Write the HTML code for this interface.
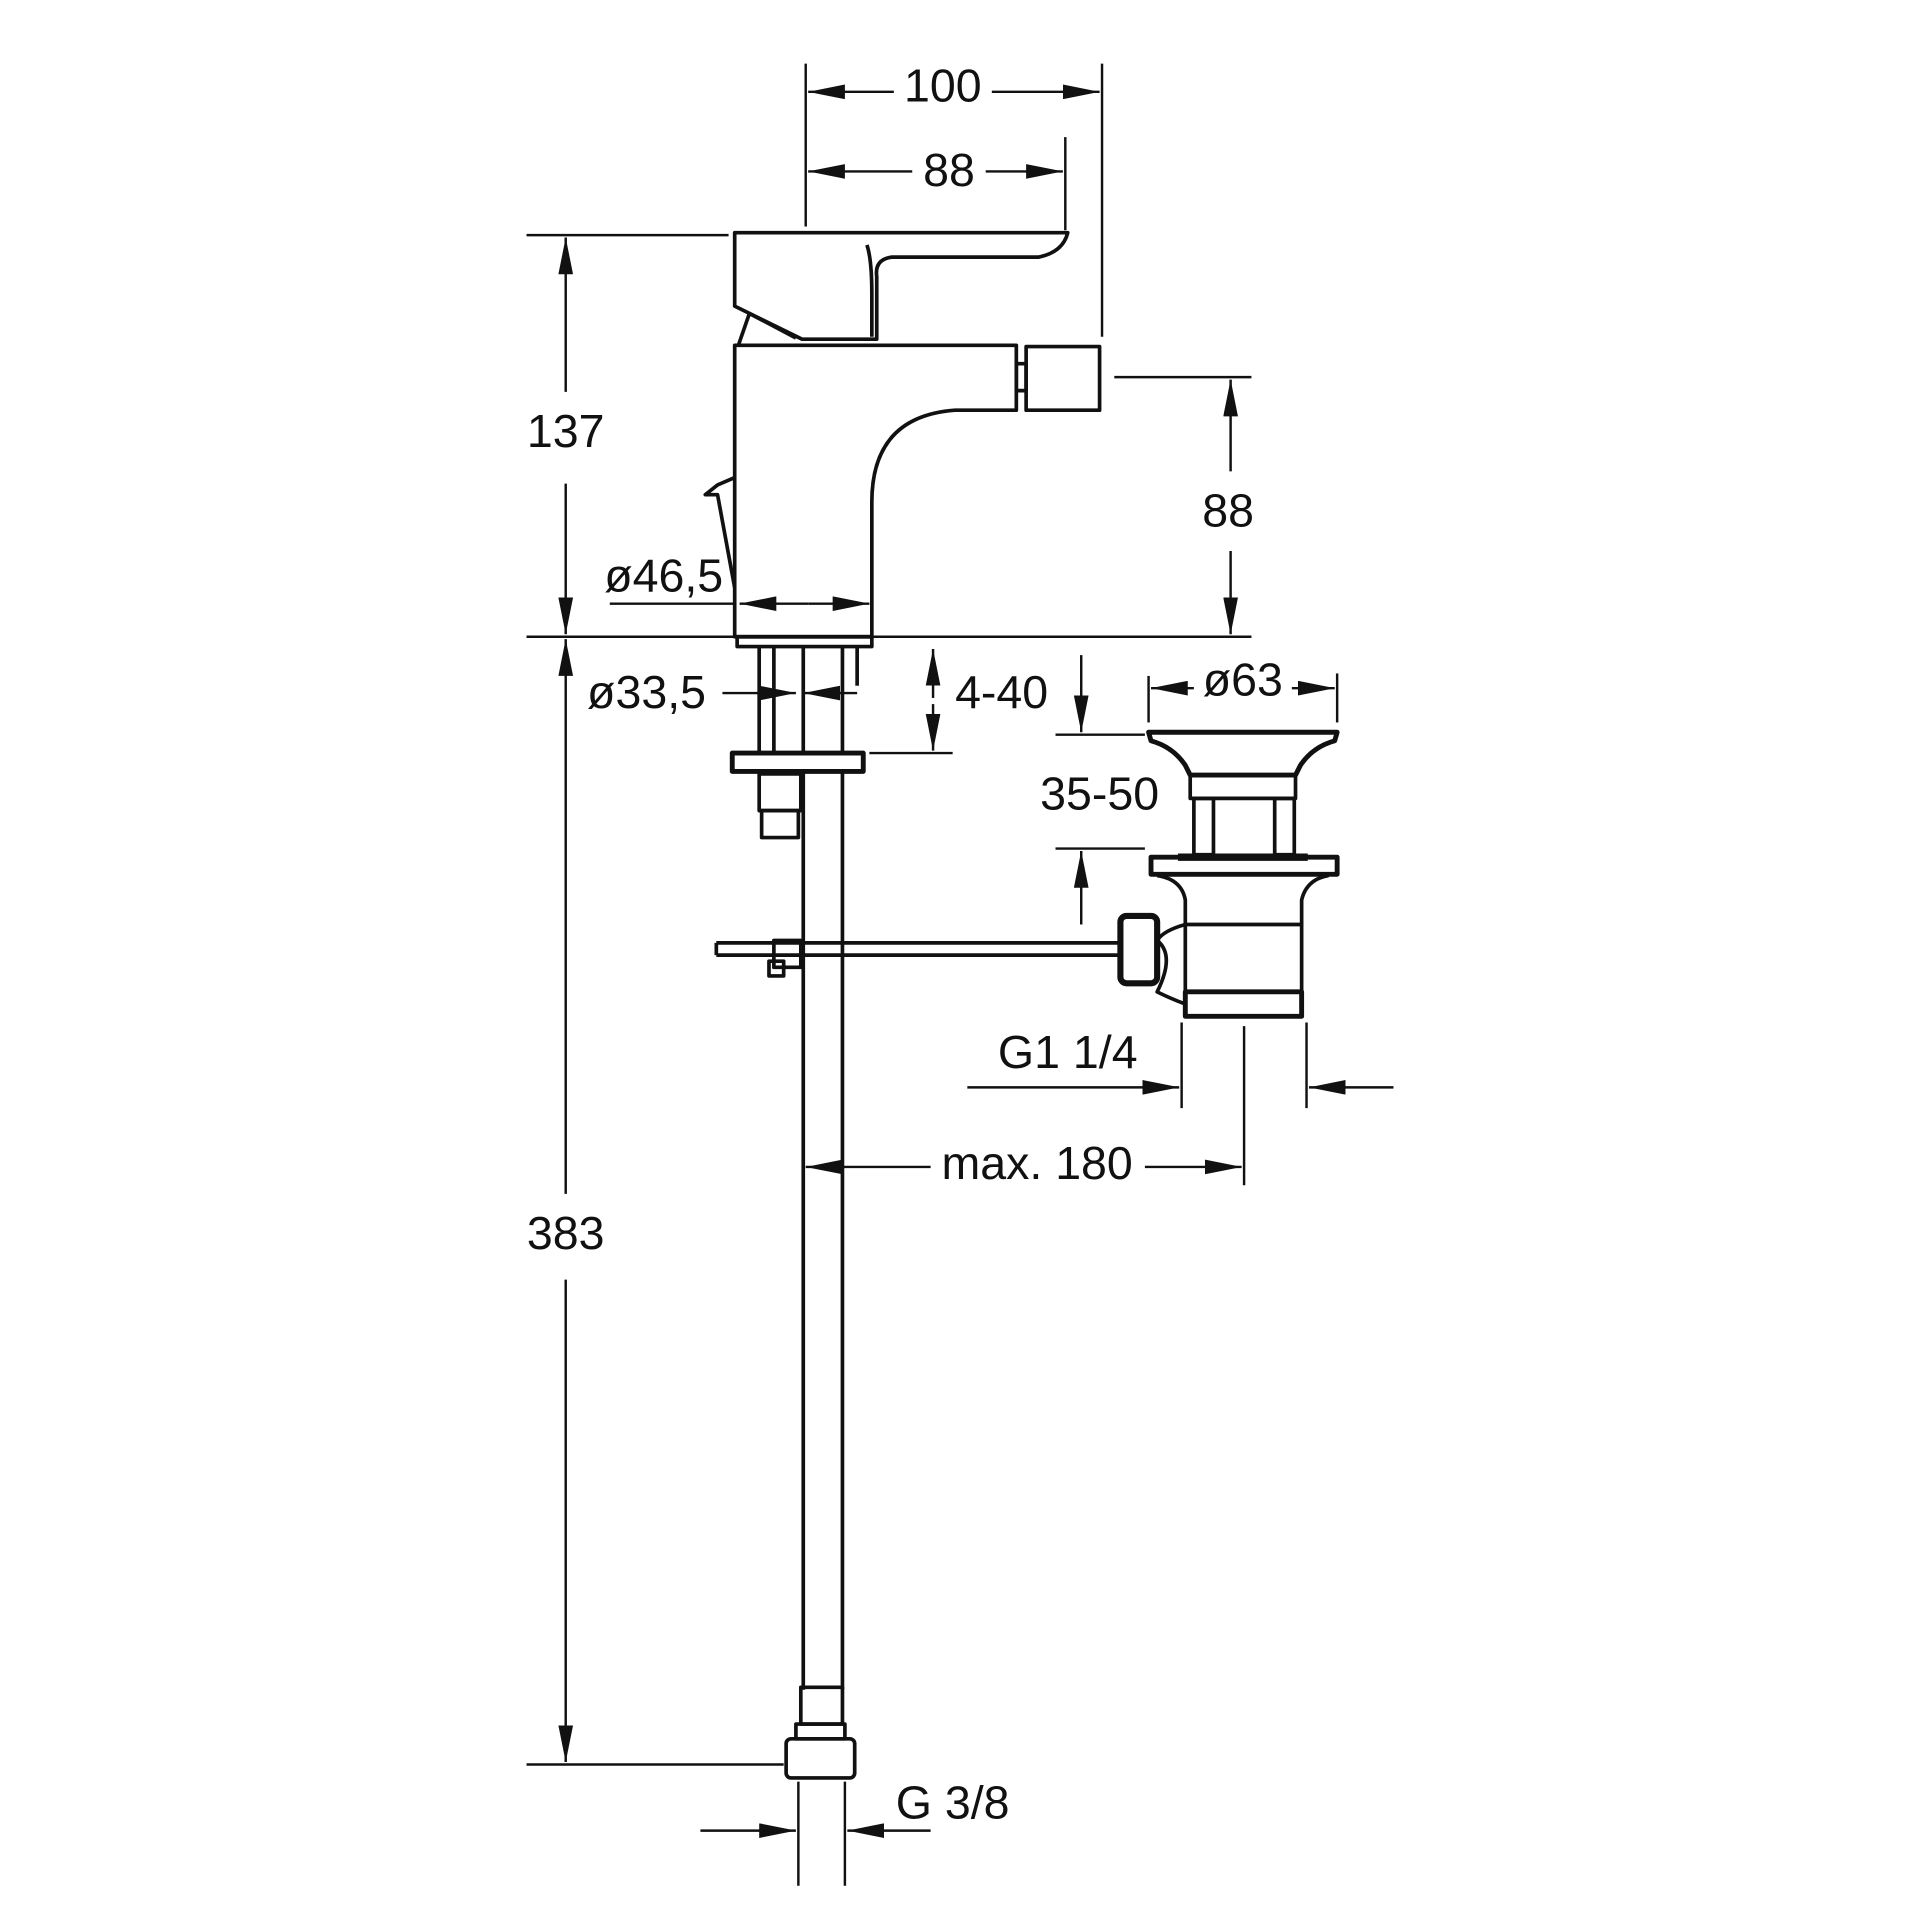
<!DOCTYPE html>
<html><head><meta charset="utf-8"><style>html,body{margin:0;padding:0;background:#fff}svg{display:block}</style></head>
<body>
<svg width="1920" height="1920" viewBox="0 0 1568 1568" xmlns="http://www.w3.org/2000/svg">
<defs>
<marker id="a" viewBox="0 0 30 12" refX="30" refY="6" markerWidth="30" markerHeight="12" markerUnits="userSpaceOnUse" orient="auto" preserveAspectRatio="none"><path d="M0,0 L30,6 L0,12 Z" fill="#111"/></marker>
</defs>
<g stroke="#111" stroke-width="2" fill="none">
<line x1="658" y1="52" x2="658" y2="185"/><line x1="900" y1="52" x2="900" y2="275"/><line x1="870" y1="112" x2="870" y2="188"/>
<line x1="730" y1="75" x2="660" y2="75" marker-end="url(#a)"/><line x1="810" y1="75" x2="898" y2="75" marker-end="url(#a)"/>
<line x1="745" y1="140" x2="660" y2="140" marker-end="url(#a)"/><line x1="805" y1="140" x2="868" y2="140" marker-end="url(#a)"/>
<line x1="430" y1="192" x2="595" y2="192"/><line x1="430" y1="520" x2="1022" y2="520"/><line x1="430" y1="1441" x2="640" y2="1441"/>
<line x1="462" y1="320" x2="462" y2="194" marker-end="url(#a)"/><line x1="462" y1="395" x2="462" y2="518" marker-end="url(#a)"/>
<line x1="462" y1="975" x2="462" y2="522" marker-end="url(#a)"/><line x1="462" y1="1045" x2="462" y2="1439" marker-end="url(#a)"/>
<line x1="910" y1="308" x2="1022" y2="308"/>
<line x1="1005" y1="385" x2="1005" y2="310" marker-end="url(#a)"/><line x1="1005" y1="450" x2="1005" y2="518" marker-end="url(#a)"/>
<line x1="498" y1="493" x2="600" y2="493"/>
<line x1="660" y1="493" x2="604" y2="493" marker-end="url(#a)"/><line x1="660" y1="493" x2="710" y2="493" marker-end="url(#a)"/>
<line x1="590" y1="566" x2="650" y2="566" marker-end="url(#a)"/><line x1="700" y1="566" x2="656" y2="566" marker-end="url(#a)"/>
<line x1="710" y1="615" x2="778" y2="615"/>
<line x1="762" y1="570" x2="762" y2="530" marker-end="url(#a)"/><line x1="762" y1="575" x2="762" y2="613" marker-end="url(#a)"/>
<line x1="938" y1="552" x2="938" y2="590"/><line x1="1092" y1="550" x2="1092" y2="590"/>
<line x1="975" y1="562" x2="940" y2="562" marker-end="url(#a)"/><line x1="1055" y1="562" x2="1090" y2="562" marker-end="url(#a)"/>
<line x1="862" y1="600" x2="935" y2="600"/><line x1="862" y1="693" x2="935" y2="693"/>
<line x1="883" y1="535" x2="883" y2="598" marker-end="url(#a)"/><line x1="883" y1="755" x2="883" y2="695" marker-end="url(#a)"/>
<line x1="965" y1="835" x2="965" y2="905"/><line x1="1067" y1="835" x2="1067" y2="905"/><line x1="1016" y1="838" x2="1016" y2="968"/>
<line x1="790" y1="888" x2="963" y2="888" marker-end="url(#a)"/><line x1="1138" y1="888" x2="1069" y2="888" marker-end="url(#a)"/>
<line x1="760" y1="953" x2="658" y2="953" marker-end="url(#a)"/><line x1="935" y1="953" x2="1014" y2="953" marker-end="url(#a)"/>
<line x1="652" y1="1455" x2="652" y2="1540"/><line x1="690" y1="1455" x2="690" y2="1540"/>
<line x1="572" y1="1495" x2="650" y2="1495" marker-end="url(#a)"/><line x1="760" y1="1495" x2="692" y2="1495" marker-end="url(#a)"/>
</g>
<g stroke="#111" stroke-width="3" fill="none" stroke-linejoin="round">
<path d="M600,190 L872,190 Q868,206 848,210 L728,210 Q714,212 716,226 L716,277 L655,277 L600,250 Z"/>
<path d="M708,200 Q712,212 712,240 L712,275"/>
<path d="M603,282 L612,256 L650,276"/>
<path d="M600,282 L830,282 L830,335 L780,335 Q712,340 712,410 L712,520 L600,520 Z"/>
<rect x="838" y="283" width="60" height="52"/><rect x="830" y="297" width="8" height="22"/>
<path d="M600,390 L586,396 L576,404 L586,404 L600,480"/>
<rect x="602" y="520" width="110" height="8"/>
<line x1="620" y1="528" x2="620" y2="615"/><line x1="632" y1="528" x2="632" y2="615"/>
<line x1="656" y1="528" x2="656" y2="615"/><line x1="688" y1="528" x2="688" y2="615"/><line x1="700" y1="528" x2="700" y2="560"/>
<rect x="598" y="615" width="107" height="15" stroke-width="4"/>
<rect x="620" y="632" width="34" height="30"/><rect x="622" y="662" width="30" height="22"/>
<line x1="656" y1="630" x2="656" y2="1380"/><line x1="688" y1="630" x2="688" y2="1380"/>
<rect x="654" y="1378" width="34" height="30"/><rect x="642" y="1420" width="56" height="32" rx="4"/><rect x="650" y="1408" width="40" height="12"/>
<path d="M585,770 L915,770 M585,780 L915,780 M585,770 L585,780"/>
<rect x="632" y="768" width="22" height="22"/><rect x="628" y="785" width="12" height="12"/>
<path d="M938,598 L1092,598 L1090,605 Q1072,610 1062,625 L1058,633 L972,633 L968,625 Q958,610 940,605 Z" stroke-width="4"/>
<path d="M972,633 L972,652 L1058,652 L1058,633"/>
<rect x="975" y="652" width="16" height="46"/><rect x="1041" y="652" width="16" height="46"/>
<path d="M962,700 L1068,700" stroke-width="6"/>
<rect x="940" y="700" width="152" height="14" stroke-width="4"/>
<path d="M945,715 Q965,718 968,735 L968,755 M1085,715 Q1067,718 1063,735 L1063,755"/>
<rect x="968" y="755" width="95" height="75"/><rect x="968" y="810" width="95" height="20" stroke-width="4"/>
<path d="M968,755 Q950,760 945,768 Q960,780 945,810 Q955,815 968,820"/>
<rect x="915" y="748" width="30" height="55" rx="5" stroke-width="5"/>
</g>
<g font-family="Liberation Sans, sans-serif" font-size="38" fill="#111" text-anchor="middle">
<text x="770" y="83">100</text><text x="775" y="152">88</text>
<text x="462" y="365">137</text><text x="462" y="1020">383</text>
<text x="1003" y="430">88</text>
<text x="542" y="483">ø46,5</text><text x="528" y="578">ø33,5</text>
<text x="818" y="578">4-40</text><text x="1015" y="568">ø63</text>
<text x="898" y="661">35-50</text><text x="872" y="872">G1 1/4</text>
<text x="847" y="963">max. 180</text><text x="778" y="1485">G 3/8</text>
</g>
</svg>
</body></html>
